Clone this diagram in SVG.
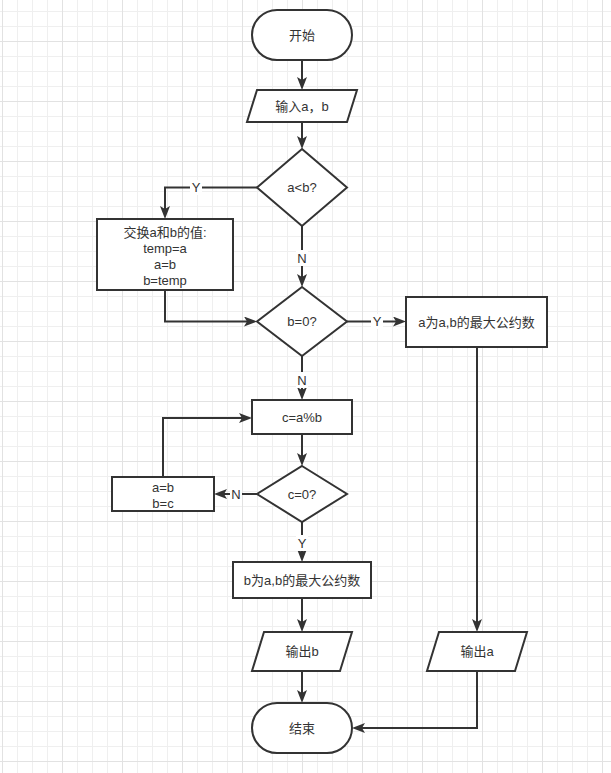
<svg xmlns="http://www.w3.org/2000/svg" width="611" height="773" viewBox="0 0 611 773">
<style>
.s{fill:#fff;stroke:#333;stroke-width:2}
.c{fill:none;stroke:#333;stroke-width:2;marker-end:url(#arr)}
.t{font-family:"Liberation Sans","Noto Sans CJK SC",sans-serif;font-size:13px;fill:#333;text-anchor:middle;dominant-baseline:central}
.lb{fill:#fff}
</style>
<defs>
<pattern id="minor" x="2" y="11" width="15" height="15" patternUnits="userSpaceOnUse"><path d="M0.5 0V15M0 0.5H15" stroke="#efefef" stroke-width="1" fill="none"/></pattern>
<pattern id="major" x="2" y="41" width="60" height="60" patternUnits="userSpaceOnUse"><path d="M0.5 0V60M0 0.5H60" stroke="#e2e2e2" stroke-width="1" fill="none"/></pattern>
<marker id="arr" viewBox="0 0 13 10" refX="3" refY="5" markerWidth="13" markerHeight="10" markerUnits="userSpaceOnUse" orient="auto"><path d="M0,0 L13,5 L0,10 L3,5 Z" fill="#333"/></marker>
</defs>
<rect width="611" height="773" fill="#fff"/>
<rect width="611" height="773" fill="url(#minor)"/>
<rect width="611" height="773" fill="url(#major)"/>

<g id="connectors">
<path class="c" d="M302 60V80"/>
<path class="c" d="M302 122V139"/>
<path class="c" d="M257 187.5H165V209"/>
<path class="c" d="M302 226V277"/>
<path class="c" d="M165 290V321.5H247"/>
<path class="c" d="M347 321.5H396"/>
<path class="c" d="M302 356V390"/>
<path class="c" d="M477 347V622"/>
<path class="c" d="M302 434V456"/>
<path class="c" d="M257 494H224"/>
<path class="c" d="M163 477V418H242"/>
<path class="c" d="M302 522V552"/>
<path class="c" d="M302 598V622"/>
<path class="c" d="M302 671V693"/>
<path class="c" d="M477 671V728H362"/>
<g id="labels">
<rect class="lb" x="190" y="180" width="12" height="15"/><text class="t" x="196" y="187.5">Y</text>
<rect class="lb" x="296" y="250" width="12" height="16"/><text class="t" x="302" y="258">N</text>
<rect class="lb" x="371" y="314" width="12" height="15"/><text class="t" x="377" y="321.5">Y</text>
<rect class="lb" x="296" y="372" width="12" height="16"/><text class="t" x="302" y="380">N</text>
<rect class="lb" x="230" y="486" width="12" height="16"/><text class="t" x="236" y="494">N</text>
<rect class="lb" x="296" y="535" width="12" height="16"/><text class="t" x="302" y="543">Y</text>
</g>
</g>

<g id="start"><rect class="s" x="252" y="10" width="100" height="50" rx="25" ry="25"/><text class="t" x="302" y="35">开始</text></g>
<g id="input"><polygon class="s" points="257,90 357,90 347,122 247,122"/><text class="t" x="302" y="106">输入a，b</text></g>
<g id="cmp"><polygon class="s" points="302,149 347,187.5 302,226 257,187.5"/><text class="t" x="302" y="187.5">a&lt;b?</text></g>
<g id="swap"><rect class="s" x="97" y="219" width="136" height="71"/>
<text class="t" x="165" y="232">交换a和b的值:</text>
<text class="t" x="165" y="248">temp=a</text>
<text class="t" x="165" y="264">a=b</text>
<text class="t" x="165" y="280">b=temp</text></g>
<g id="bzero"><polygon class="s" points="302,287 347,321.5 302,356 257,321.5"/><text class="t" x="302" y="321.5">b=0?</text></g>
<g id="agcd"><rect class="s" x="406" y="297" width="141" height="50"/><text class="t" x="476.5" y="322">a为a,b的最大公约数</text></g>
<g id="mod"><rect class="s" x="252" y="400" width="100" height="34"/><text class="t" x="302" y="417">c=a%b</text></g>
<g id="czero"><polygon class="s" points="302,466 347,494 302,522 257,494"/><text class="t" x="302" y="494">c=0?</text></g>
<g id="assign"><rect class="s" x="112" y="477" width="102" height="34"/>
<text class="t" x="163" y="487">a=b</text>
<text class="t" x="163" y="503">b=c</text></g>
<g id="bgcd"><rect class="s" x="233" y="562" width="138" height="36"/><text class="t" x="302" y="580">b为a,b的最大公约数</text></g>
<g id="outb"><polygon class="s" points="264,632 352,632 340,671 252,671"/><text class="t" x="302" y="651.5">输出b</text></g>
<g id="outa"><polygon class="s" points="439,632 527,632 515,671 427,671"/><text class="t" x="477" y="651.5">输出a</text></g>
<g id="end"><rect class="s" x="252" y="703" width="100" height="50" rx="25" ry="25"/><text class="t" x="302" y="728">结束</text></g>
</svg>
